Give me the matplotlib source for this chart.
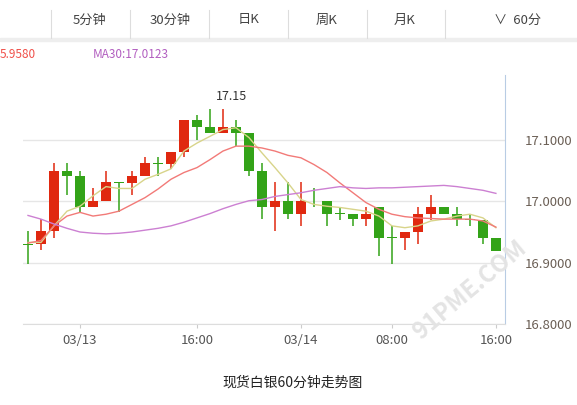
import matplotlib
matplotlib.use("Agg")
import matplotlib.pyplot as plt
import numpy as np

plt.rcParams['font.family'] = ['Noto Sans CJK SC', 'DejaVu Sans']

# ---- data (60 minute candles) ----
opens = [16.931, 16.930, 16.951, 17.050, 17.041, 16.990, 17.000, 17.031, 17.030, 17.041,
         17.062, 17.061, 17.081, 17.132, 17.122, 17.111, 17.122, 17.112, 17.050, 16.990,
         17.000, 16.980, 17.001, 17.000, 16.981, 16.980, 16.971, 16.990, 16.941, 16.940,
         16.950, 16.980, 16.990, 16.980, 16.971, 16.970, 16.940]
closes = [16.928, 16.951, 17.050, 17.041, 16.990, 17.000, 17.031, 17.030, 17.041, 17.062,
          17.061, 17.081, 17.132, 17.122, 17.111, 17.122, 17.111, 17.050, 16.990, 17.000,
          16.980, 17.000, 17.000, 16.980, 16.980, 16.971, 16.980, 16.940, 16.940, 16.950,
          16.980, 16.990, 16.980, 16.971, 16.970, 16.940, 16.919]
highs = [16.951, 16.971, 17.062, 17.062, 17.050, 17.021, 17.050, 17.031, 17.050, 17.072,
         17.072, 17.081, 17.132, 17.141, 17.151, 17.150, 17.132, 17.112, 17.062, 17.031,
         17.031, 17.031, 17.021, 17.000, 16.990, 16.980, 16.990, 16.990, 16.960, 16.950,
         16.990, 17.010, 16.990, 16.990, 16.980, 16.970, 16.940]
lows = [16.898, 16.920, 16.941, 17.010, 16.982, 16.990, 17.000, 16.982, 17.010, 17.041,
        17.041, 17.052, 17.072, 17.100, 17.111, 17.111, 17.091, 17.041, 16.971, 16.951,
        16.971, 16.960, 16.990, 16.960, 16.970, 16.960, 16.960, 16.911, 16.898, 16.921,
        16.931, 16.970, 16.980, 16.960, 16.960, 16.931, 16.919]
ma5 = [16.933, 16.933, 16.960, 16.984, 16.992, 17.009, 17.024, 17.021, 17.021, 17.036,
       17.044, 17.053, 17.082, 17.095, 17.106, 17.117, 17.120, 17.104, 17.079, 17.055,
       17.030, 17.003, 16.995, 16.992, 16.990, 16.987, 16.984, 16.976, 16.960, 16.957,
       16.960, 16.968, 16.971, 16.976, 16.979, 16.973, 16.957]
ma10 = [16.932, 16.936, 16.960, 16.976, 16.982, 16.976, 16.979, 16.984, 16.995, 17.006,
        17.020, 17.036, 17.047, 17.055, 17.068, 17.082, 17.090, 17.090, 17.087, 17.082,
        17.075, 17.071, 17.060, 17.047, 17.030, 17.014, 16.998, 16.987, 16.979, 16.975,
        16.973, 16.972, 16.971, 16.971, 16.971, 16.968, 16.958]
ma30 = [16.977, 16.971, 16.963, 16.956, 16.950, 16.948, 16.947, 16.948, 16.950, 16.953,
        16.956, 16.960, 16.966, 16.973, 16.980, 16.988, 16.995, 17.001, 17.003, 17.008,
        17.011, 17.014, 17.018, 17.021, 17.024, 17.022, 17.021, 17.022, 17.022, 17.023,
        17.024, 17.025, 17.026, 17.024, 17.021, 17.018, 17.013]
xtick_pos = [4, 13, 21, 28, 36]
xtick_labels = ['03/13', '16:00', '03/14', '08:00', '16:00']
yticks = [16.8, 16.9, 17.0, 17.1]
tabs = ['5分钟', '30分钟', '日K', '周K', '月K', '60分']

RED = '#e0280f'
GREEN = '#33a318'

fig = plt.figure(figsize=(5.77, 4.05), dpi=100)
ax = fig.add_axes([23/577, 1-324/405, (505-23)/577, (324-75)/405])

x = np.arange(len(opens))
for i in x:
    up = closes[i] >= opens[i]
    c = RED if up else GREEN
    ax.vlines(i, lows[i], highs[i], color=c, lw=1.1, zorder=3)
    lo = min(opens[i], closes[i])
    h = max(abs(closes[i] - opens[i]), 0.0012)
    ax.bar(i, h, bottom=lo, width=0.72, color=c, zorder=3)

ax.plot(x, ma5, color='#d8d48a', lw=1.0, zorder=4)
ax.plot(x, ma10, color='#f27a78', lw=1.0, zorder=4)
ax.plot(x, ma30, color='#cc80d2', lw=1.0, zorder=4)

ax.annotate('17.15', (15, max(highs)), xytext=(6, 6), textcoords='offset points',
            ha='center', fontsize=9, color='#333333')

ax.set_xlim(-0.385, 36.7)
ax.set_ylim(16.8, 17.206)
ax.set_yticks(yticks)
ax.grid(axis='y', color='#e6e6e6', lw=1)
ax.set_axisbelow(True)
ax.yaxis.tick_right()
ax.set_yticklabels(['%.4f' % v for v in yticks], fontsize=9.5, color='#6b5f55')
ax.set_xticks(xtick_pos)
ax.set_xticklabels(xtick_labels, fontsize=9.5, color='#555555')
ax.tick_params(axis='y', length=0, pad=14)
ax.tick_params(axis='x', length=3, color='#cccccc', pad=4)
for s in ['top', 'left']:
    ax.spines[s].set_visible(False)
ax.spines['bottom'].set_color('#dddddd')
ax.spines['right'].set_color('#b8cce4')

# header tabs
fig.add_artist(plt.Rectangle((0, 1-41/405), 1, 3/405, transform=fig.transFigure, color='#eeeeee'))
seps = [51, 130, 209, 288, 367, 445]
for s in seps:
    fig.add_artist(plt.Line2D([s/577, s/577], [1-38/405, 1-10/405], transform=fig.transFigure,
                              color='#dddddd', lw=0.8))
tab_x = [90, 170, 249, 327, 405, 518]
for t, tx in zip(tabs, tab_x):
    label = ('﹀ ' + t) if t == '60分' else t
    fig.text(tx/577, 1-20/405, t if t != '60分' else '\u2228  60分', ha='center', va='center',
             fontsize=9.5, color='#444444')

fig.text(0, 1-55/405, '5.9580', ha='left', va='center', fontsize=8.5, color='#f0504a')
fig.text(93/577, 1-55/405, 'MA30:17.0123', ha='left', va='center', fontsize=8.5, color='#b25ec0')

fig.text(293/577, 1-383/405, '现货白银60分钟走势图', ha='center', va='center', fontsize=10, color='#222222')

fig.text(470/577, 1-290/405, '91PME.COM', rotation=40, ha='center', va='center',
         fontsize=17, color='#e4e4e4', fontweight='bold', zorder=0)

fig.savefig('out.png', dpi=100, facecolor='white')
